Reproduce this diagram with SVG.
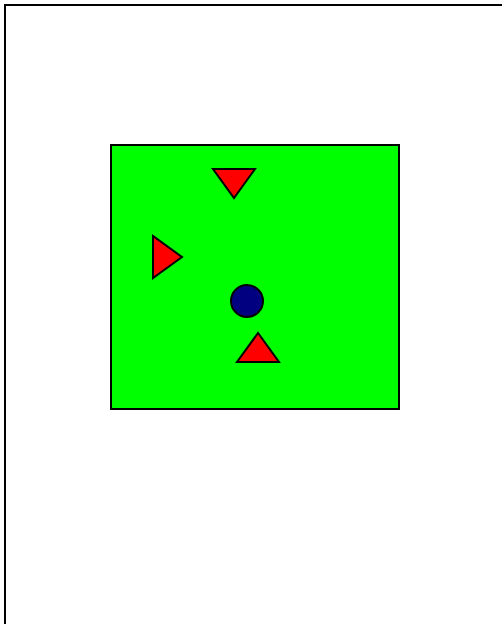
<svg xmlns="http://www.w3.org/2000/svg" width="502" height="624" viewBox="0 0 502 624">
<style>
.tri{fill:#ff0000;stroke:#000;stroke-width:2;stroke-linejoin:miter}
</style>
<rect x="0" y="0" width="502" height="624" fill="#fff"/>
<g id="frame"><rect x="5" y="5" width="520" height="640" fill="none" stroke="#000" stroke-width="2"/></g>
<g id="field"><rect x="111" y="145" width="288" height="264" fill="#00ff00" stroke="#000" stroke-width="2"/></g>
<g id="tri-down"><polygon class="tri" points="213,169 255,169 234,198"/></g>
<g id="tri-right"><polygon class="tri" points="153,236 153,278 182,257"/></g>
<g id="dot"><circle cx="247" cy="301" r="16" fill="#000080" stroke="#000" stroke-width="2"/></g>
<g id="tri-up"><polygon class="tri" points="258,333 237,362 279,362"/></g>
<g id="connectors"></g>
</svg>
